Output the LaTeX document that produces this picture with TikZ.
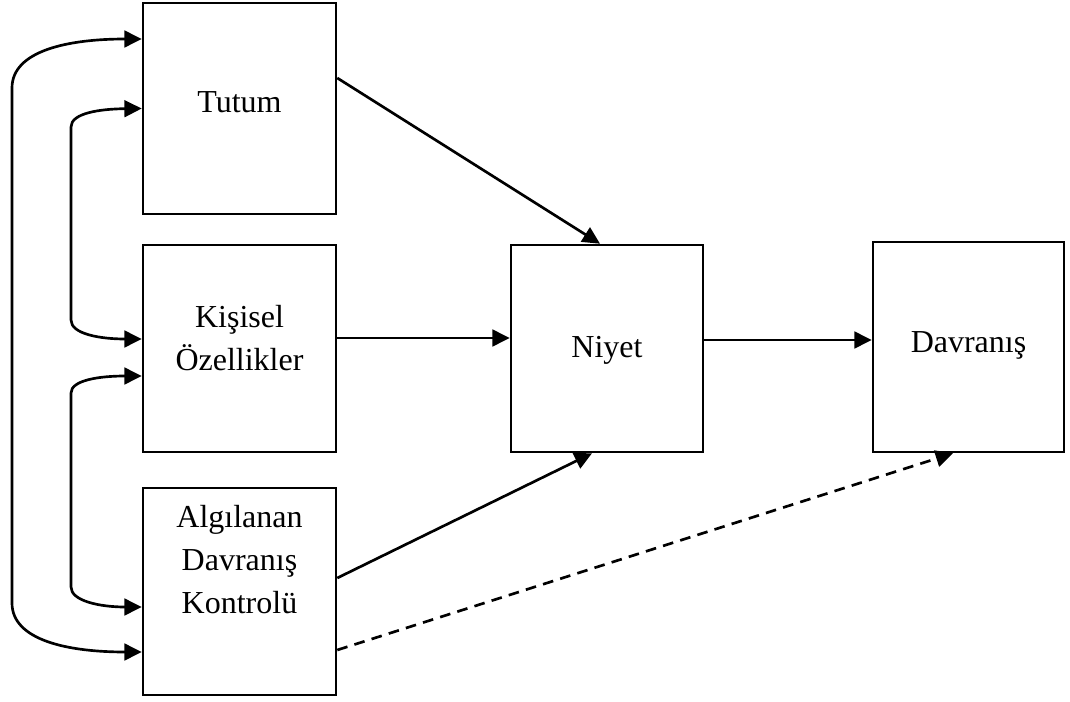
\documentclass[tikz,border=0pt]{standalone}
\usepackage{fontspec}
\setmainfont{Liberation Serif}
\usetikzlibrary{arrows.meta,calc}

\begin{document}
\begin{tikzpicture}[x=0.75pt,y=-0.75pt,
  box/.style={draw,line width=1.9pt,inner sep=0pt},
  lbl/.style={anchor=base,align=center,inner sep=0pt,
    font=\fontsize{24}{32}\selectfont},
  link/.style={line width=2pt,-{Triangle[length=13pt,width=12.5pt]}},
  twoway/.style={line width=2pt,{Triangle[length=13pt,width=12.5pt]}-{Triangle[length=13pt,width=12.5pt]}},
  maybe/.style={link,dash pattern=on 8pt off 5.5pt}]
\useasboundingbox (0,0) rectangle (1070,702);

% boxes
\node[box,minimum width=193*0.75pt,minimum height=211*0.75pt] (tutum) at (239.5,108.5) {};
\node[box,minimum width=193*0.75pt,minimum height=207*0.75pt] (kisisel) at (239.5,348.5) {};
\node[box,minimum width=193*0.75pt,minimum height=207*0.75pt] (alg) at (239.5,591.5) {};
\node[box,minimum width=192*0.75pt,minimum height=207*0.75pt] (niyet) at (607,348.5) {};
\node[box,minimum width=191*0.75pt,minimum height=210*0.75pt] (davranis) at (968.5,347) {};

% labels (base = baseline of the last line)
\node[lbl] (tTutum) at (239.5,113) {Tutum};
\node[lbl] (tKisisel) at (239.5,370) {Kişisel\\Özellikler};
\node[lbl] (tAlg) at (239.5,613) {Algılanan\\Davranış\\Kontrolü};
\node[lbl] (tNiyet) at (607,357) {Niyet};
\node[lbl] (tDavranis) at (968.5,352) {Davranış};

% anchor points on the box sides
\coordinate (tOut)  at ($(tutum.east)+(0,-30.5)$);
\coordinate (kOut)  at ($(kisisel.east)+(0,-10.5)$);
\coordinate (nOut)  at ($(niyet.east)+(0,-8.5)$);
\coordinate (aOut)  at ($(alg.east)+(0,-13.5)$);
\coordinate (aDash) at ($(alg.east)+(0,58.5)$);
\coordinate (nTop)  at ($(niyet.north)+(-7,0)$);
\coordinate (nBot)  at ($(niyet.south)+(-15,0)$);
\coordinate (dBot)  at ($(davranis.south)+(-15.5,0)$);

\coordinate (tA) at ($(tutum.west)+(0,-69.5)$);
\coordinate (tB) at (tutum.west);
\coordinate (kA) at ($(kisisel.west)+(0,-9.5)$);
\coordinate (kB) at ($(kisisel.west)+(0,27.5)$);
\coordinate (aA) at ($(alg.west)+(0,15.5)$);
\coordinate (aB) at ($(alg.west)+(0,60.5)$);

% forward paths
\draw[link] (tOut) -- (nTop);
\draw[link] (kOut) -- (kOut -| niyet.west);
\draw[link] (aOut) -- (nBot);
\draw[link] (nOut) -- (nOut -| davranis.west);
\draw[maybe] (aDash) -- (dBot);

% correlations between the antecedents
\draw[twoway] (tA) .. controls (70,39) and (12,50) .. (12,88)
  -- (12,603) .. controls (12,641) and (70,652) .. (aB);
\draw[twoway] (tB) .. controls (100,109) and (71,113) .. (71,127)
  -- (71,320) .. controls (71,334) and (100,339) .. (kA);
\draw[twoway] (kB) .. controls (100,376) and (71,380) .. (71,393)
  -- (71,587) .. controls (71,601) and (100,607) .. (aA);
\end{tikzpicture}
\end{document}
